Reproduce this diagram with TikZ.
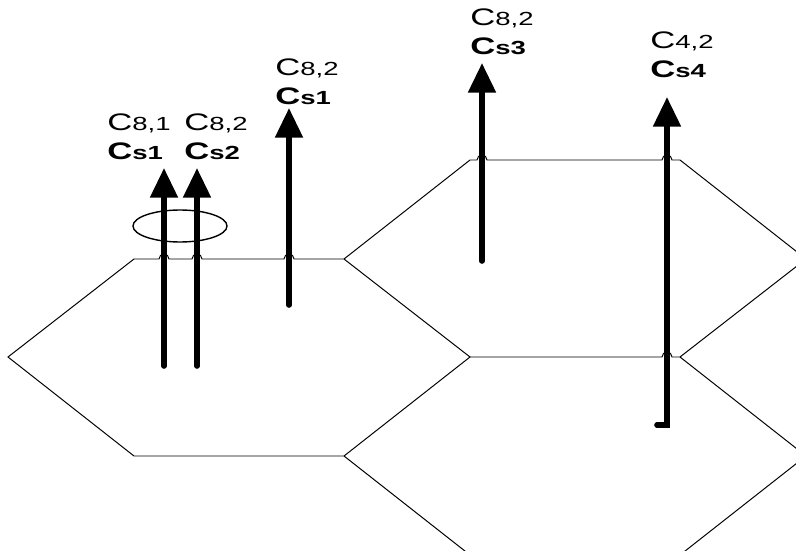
\documentclass[tikz,border=0pt]{standalone}
\usepackage{fontspec}
\setmainfont{Liberation Sans}[FakeStretch=1.45]
\usetikzlibrary{arrows.meta}
\newcommand{\cidx}[1]{{\fontsize{17}{20}\selectfont C\fontsize{13.5}{15}\selectfont #1}}
\tikzset{
  hexln/.style={line width=0.7pt,color=black},
  sarr/.style={-{Triangle[length=21pt,width=19pt]},line width=4pt,
    line cap=round,color=black},
  clbl/.style={align=left,inner sep=0pt,anchor=north west,
    font={\fontsize{17}{20}\selectfont}},
  ring/.style={line width=1pt,color=black},
}
\begin{document}
\begin{tikzpicture}[x=0.025cm,y=-0.025cm]
  \useasboundingbox (0,0) rectangle (796,551);
  \begin{scope}
  \clip (0,0) rectangle (796,551);

  %% Hexagon corners
  \coordinate (aL) at (8,357);   \coordinate (aTL) at (134,259);
  \coordinate (aTR) at (344,259); \coordinate (aR) at (470,357);
  \coordinate (aBR) at (344,456); \coordinate (aBL) at (134,456);
  \coordinate (bTL) at (470,160); \coordinate (bTR) at (680,160);
  \coordinate (bR) at (806,259);  \coordinate (bBR) at (680,357);
  \coordinate (cR) at (806,456);  \coordinate (cBR) at (680,555);
  \coordinate (cBL) at (470,555);

  %% Hexagon edges (hops where arrows cross)
  \draw[hexln] (aTL) foreach \h in {164,197,289}{
      -- (\h-5,259) arc[start angle=180,end angle=360,radius=5]} -- (aTR);
  \draw[hexln] (aTR) -- (aR) -- (aBR) -- (aBL) -- (aL) -- (aTL);
  \draw[hexln] (aTR) -- (bTL) foreach \h in {482,667}{
      -- (\h-5,160) arc[start angle=180,end angle=360,radius=5]} -- (bTR)
      -- (bR) -- (bBR);
  \draw[hexln] (aR) -- (662,357) arc[start angle=180,end angle=360,radius=5]
      -- (bBR);
  \draw[hexln] (bBR) -- (cR) -- (cBR) -- (cBL) -- (aBR);
  \end{scope}

  %% Arrow ends
  \coordinate (s1) at (164,366); \coordinate (t1) at (164,168);
  \coordinate (s2) at (197,366); \coordinate (t2) at (197,168);
  \coordinate (s3) at (289,305); \coordinate (t3) at (289,108);
  \coordinate (s4) at (482,261); \coordinate (t4) at (482,63);
  \coordinate (k5) at (657,425); \coordinate (s5) at (667,425);
  \coordinate (t5) at (667,97);

  %% Arrows
  \foreach \i in {1,2,3,4}{
    \draw[sarr] (s\i) -- (t\i);
  }
  \draw[sarr] (k5) -- (s5) -- (t5);

  %% Ring round the pair
  \draw[ring] (180,226) ellipse[x radius=47,y radius=16];

  %% Labels
  \node[clbl] (lblA) at (107,114) {\cidx{8,1}\\\textbf{\cidx{s1}}};
  \node[clbl] (lblB) at (184,114) {\cidx{8,2}\\\textbf{\cidx{s2}}};
  \node[clbl] (lblC) at (275,59) {\cidx{8,2}\\\textbf{\cidx{s1}}};
  \node[clbl] (lblD) at (470,9) {\cidx{8,2}\\\textbf{\cidx{s3}}};
  \node[clbl] (lblE) at (650,32) {\cidx{4,2}\\\textbf{\cidx{s4}}};

\end{tikzpicture}
\end{document}
